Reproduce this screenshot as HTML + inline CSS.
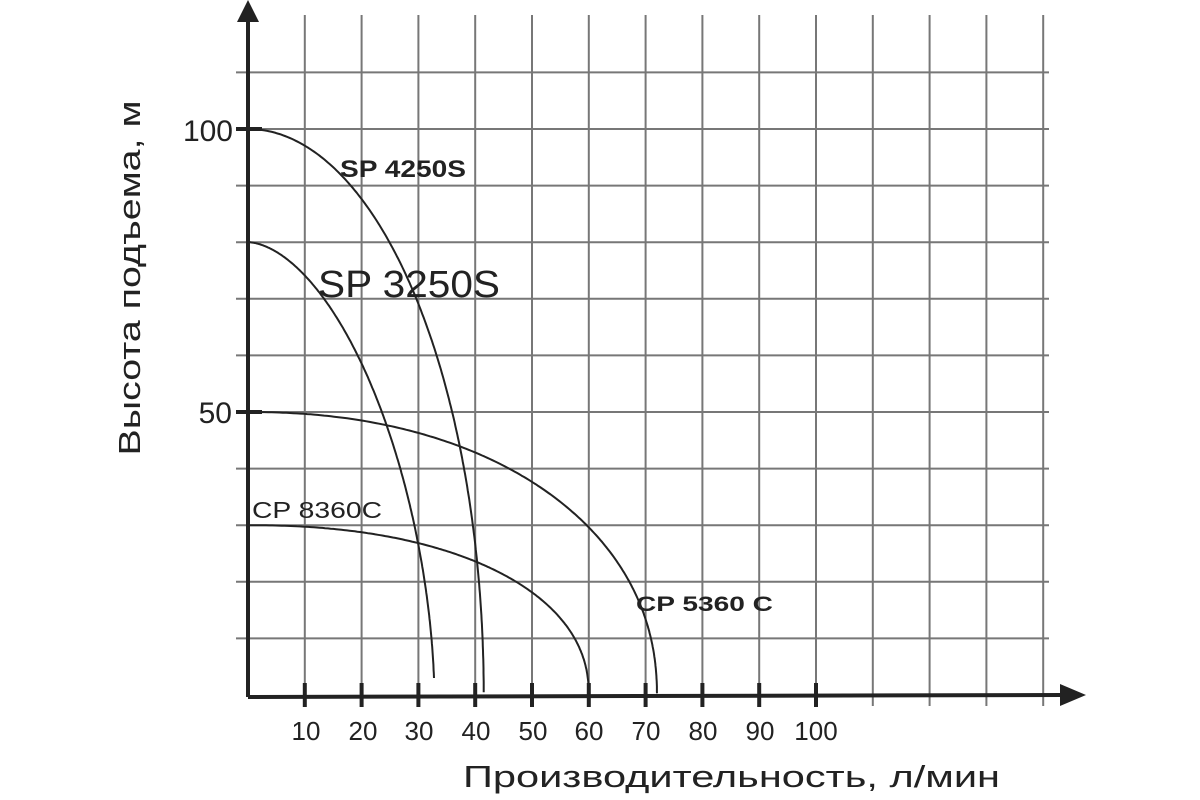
<!DOCTYPE html>
<html><head><meta charset="utf-8"><style>
html,body{margin:0;padding:0;background:#fff;width:1200px;height:800px;overflow:hidden}
svg{display:block}
text{font-family:"Liberation Sans",sans-serif;fill:#222}
</style></head><body>
<svg id="s" width="1200" height="800" viewBox="0 0 1200 800">
<g id="grid" stroke="#777" stroke-width="2"></g>
<g fill="none" stroke="#222" stroke-width="2" stroke-linejoin="round">
<path id="c1"/><path id="c2"/><path id="c3"/><path id="c4"/>
</g>
<line x1="248" y1="697" x2="1062" y2="695" stroke="#222" stroke-width="4"/>
<polygon points="1086,695 1060,684 1060,706" fill="#222"/>
<line x1="248" y1="697" x2="248" y2="22" stroke="#222" stroke-width="4"/>
<polygon points="248,0 237,22 259,22" fill="#222"/>
<line x1="236" y1="129" x2="262" y2="129" stroke="#222" stroke-width="4"/>
<line x1="236" y1="412" x2="262" y2="412" stroke="#222" stroke-width="4"/>
<g id="ticks" stroke="#222" stroke-width="4"></g>
<g font-size="26" text-anchor="middle">
<text x="306" y="740">10</text><text x="363" y="740">20</text><text x="419" y="740">30</text>
<text x="476" y="740">40</text><text x="533" y="740">50</text><text x="589" y="740">60</text>
<text x="646" y="740">70</text><text x="703" y="740">80</text><text x="760" y="740">90</text>
<text x="816" y="740">100</text>
</g>
<text x="233" y="141" font-size="30" text-anchor="end">100</text>
<text x="232" y="423" font-size="30" text-anchor="end">50</text>
<text x="340" y="177" font-size="24" font-weight="bold" textLength="126" lengthAdjust="spacingAndGlyphs">SP 4250S</text>
<text x="318" y="297" font-size="38" textLength="182" lengthAdjust="spacingAndGlyphs">SP 3250S</text>
<text x="252" y="518" font-size="23" textLength="130" lengthAdjust="spacingAndGlyphs">CP 8360C</text>
<text x="636" y="611" font-size="21" font-weight="bold" textLength="137" lengthAdjust="spacingAndGlyphs">CP 5360 C</text>
<text x="463" y="787" font-size="31" textLength="537" lengthAdjust="spacingAndGlyphs">Производительность, л/мин</text>
<text transform="translate(140,278) rotate(-90)" font-size="31" text-anchor="middle" textLength="355" lengthAdjust="spacingAndGlyphs">Высота подъема, м</text>
</svg>
<script>
var NS="http://www.w3.org/2000/svg";
function el(p,t,a){var e=document.createElementNS(NS,t);for(var k in a)e.setAttribute(k,a[k]);document.getElementById(p).appendChild(e);}
var X=function(q){return 248+q*5.68};var Y=function(h){return 695-h*5.66};
for(var i=1;i<=14;i++){var x=X(i*10);el("grid","line",{x1:x,y1:15,x2:x,y2:706});}
for(var j=1;j<=11;j++){var y=Y(j*10);el("grid","line",{x1:236,y1:y,x2:1049,y2:y});}
for(var i=1;i<=10;i++){var x=X(i*10);el("ticks","line",{x1:x,y1:683,x2:x,y2:707});}
function se(id,H0,Q0,p,hmin){var d="";for(var k=0;k<=200;k++){var t=Math.PI/2*(1-k/200);var q=Q0*Math.pow(Math.cos(t),2/p),h=H0*Math.pow(Math.sin(t),2/p);if(h<hmin){h=hmin;}
d+=(k?"L":"M")+X(q).toFixed(1)+","+Y(h).toFixed(1);if(h<=hmin)break;}document.getElementById(id).setAttribute("d",d);}
se("c1",100,41.5,2,0.5);
se("c2",80,32.8,1.75,3);
se("c3",50,72,2.15,0.3);
se("c4",30,60,2.2,0.3);
</script>
</body></html>
